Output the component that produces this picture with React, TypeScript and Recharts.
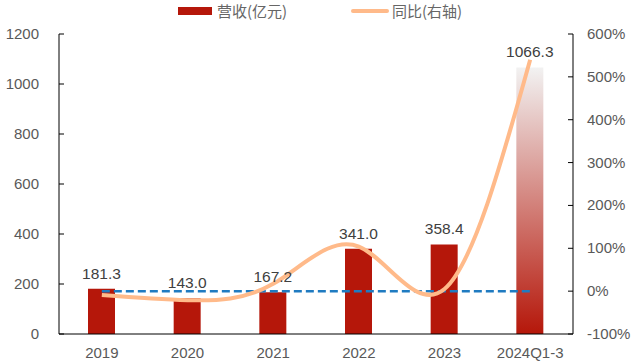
import React from "react";
import { ComposedChart, Bar, Line, XAxis, YAxis, Cell, LabelList } from "recharts";

const categories = ["2019", "2020", "2021", "2022", "2023", "2024Q1-3"];
const revenue = [181.3, 143.0, 167.2, 341.0, 358.4, 1066.3];
const growth = [-9, -21, 17, 104, 5, 540];
const zeroLine = [0, 0, 0, 0, 0, 0];
const leftTicks = [0, 200, 400, 600, 800, 1000, 1200];
const rightTicks = [-100, 0, 100, 200, 300, 400, 500, 600];
const seriesNames = ["营收(亿元)", "同比(右轴)"];

const data = categories.map((c, i) => ({ cat: c, rev: revenue[i], yoy: growth[i], zero: zeroLine[i] }));

const FONT = "'Liberation Sans', Arial, sans-serif";
const TICK_COLOR = "#595959";

const LeftTick = (props: any) => {
  const { x, y, payload } = props;
  const m = 20;
  return (
    <g>
      <line x1={x + m} x2={x + m + 5} y1={y} y2={y} stroke="#000" strokeWidth={1} />
      <text x={x} y={y} dy={5} textAnchor="end" fill={TICK_COLOR} fontSize={15} fontFamily={FONT}>
        {payload.value}
      </text>
    </g>
  );
};

const RightTick = (props: any) => {
  const { x, y, payload } = props;
  const m = 14;
  return (
    <g>
      <line x1={x - m} x2={x - m - 5} y1={y} y2={y} stroke="#000" strokeWidth={1} />
      <text x={x} y={y} dy={5} textAnchor="start" fill={TICK_COLOR} fontSize={15} fontFamily={FONT}>
        {payload.value + "%"}
      </text>
    </g>
  );
};

export default function App() {
  return (
    <div style={{ position: "absolute", left: 0, top: 0, width: 631, height: 363, background: "#fff" }}>
      <ComposedChart width={631} height={363} data={data} margin={{ top: 34, right: 0, bottom: 0, left: 0 }}>
        <defs>
          <linearGradient id="lastBar" x1="0" y1="0" x2="0" y2="1">
            <stop offset="0%" stopColor="#F2F2F2" />
            <stop offset="100%" stopColor="#B5170A" />
          </linearGradient>
        </defs>
        <XAxis
          dataKey="cat"
          height={29}
          tickLine={false}
          axisLine={{ stroke: "#000", strokeWidth: 1 }}
          tickMargin={7}
          tick={{ fill: TICK_COLOR, fontSize: 15, fontFamily: FONT }}
          interval={0}
        />
        <YAxis
          yAxisId="left"
          orientation="left"
          width={59}
          domain={[0, 1200]}
          ticks={leftTicks}
          tickSize={0}
          tickMargin={20}
          tickLine={false}
          axisLine={{ stroke: "#000", strokeWidth: 1 }}
          tick={<LeftTick />}
          interval={0}
        />
        <YAxis
          yAxisId="right"
          orientation="right"
          width={58}
          domain={[-100, 600]}
          ticks={rightTicks}
          tickSize={0}
          tickMargin={14}
          tickLine={false}
          axisLine={{ stroke: "#000", strokeWidth: 1 }}
          tick={<RightTick />}
          interval={0}
        />
        <Bar yAxisId="left" dataKey="rev" barSize={27} fill="#B5170A" isAnimationActive={false}>
          {data.map((d, i) => (
            <Cell key={i} fill={i === data.length - 1 ? "url(#lastBar)" : "#B5170A"} />
          ))}
          <LabelList
            dataKey="rev"
            position="top"
            offset={10}
            formatter={(v: any) => Number(v).toFixed(1)}
            fill="#404040"
            fontSize={15.5}
            fontFamily={FONT}
          />
        </Bar>
        <Line
          yAxisId="right"
          dataKey="zero"
          stroke="#1F7BC1"
          strokeWidth={2.5}
          strokeDasharray="8 4"
          dot={false}
          activeDot={false}
          isAnimationActive={false}
        />
        <Line
          yAxisId="right"
          type="natural"
          dataKey="yoy"
          stroke="#FFBA8A"
          strokeWidth={4}
          dot={false}
          activeDot={false}
          isAnimationActive={false}
        />
      </ComposedChart>
      <div style={{ position: "absolute", left: 178, top: 7, width: 34, height: 8, background: "#B5170A" }} />
      <div style={{ position: "absolute", left: 217, top: 0, lineHeight: "22px", fontSize: 15, color: "#666", fontFamily: "'Noto Sans CJK SC', sans-serif", whiteSpace: "nowrap" }}>
        {seriesNames[0]}
      </div>
      <div style={{ position: "absolute", left: 351, top: 9, width: 38, height: 4, background: "#FFBA8A", borderRadius: 2 }} />
      <div style={{ position: "absolute", left: 392, top: 0, lineHeight: "22px", fontSize: 15, color: "#666", fontFamily: "'Noto Sans CJK SC', sans-serif", whiteSpace: "nowrap" }}>
        {seriesNames[1]}
      </div>
    </div>
  );
}
